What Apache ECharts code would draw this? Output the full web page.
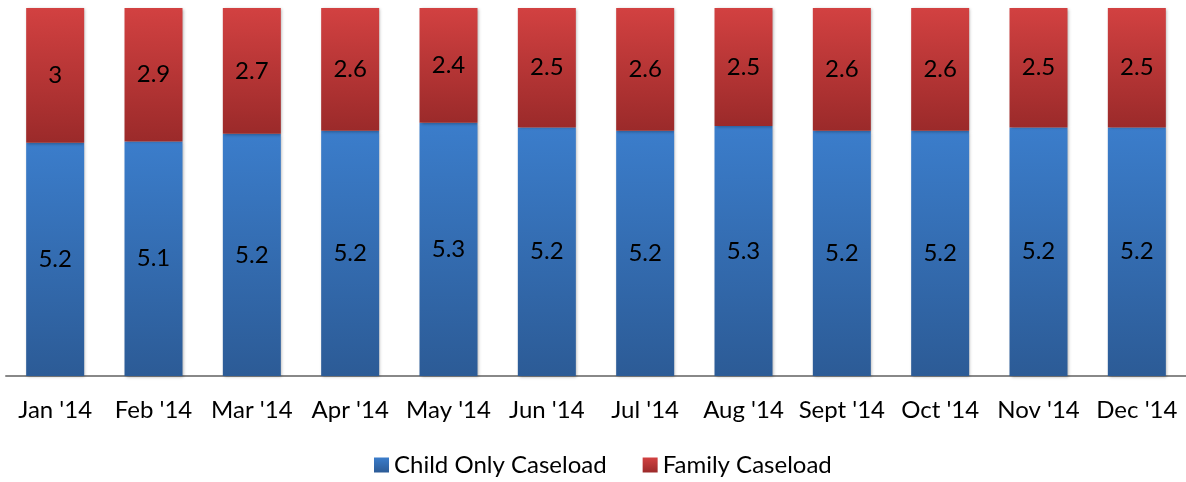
<!DOCTYPE html>
<html>
<head>
<meta charset="utf-8">
<script src="https://cdn.jsdelivr.net/npm/echarts@6/dist/echarts.min.js"></script>
<style>
  html, body { margin: 0; padding: 0; background: #fff; }
  #chart { width: 1186px; height: 482px; }
</style>
</head>
<body>
<div id="chart"></div>
<script>
const months = ["Jan '14", "Feb '14", "Mar '14", "Apr '14", "May '14", "Jun '14",
  "Jul '14", "Aug '14", "Sept '14", "Oct '14", "Nov '14", "Dec '14"];
const childOnly = [5.2, 5.1, 5.2, 5.2, 5.3, 5.2, 5.2, 5.3, 5.2, 5.2, 5.2, 5.2];
const family = [3, 2.9, 2.7, 2.6, 2.4, 2.5, 2.6, 2.5, 2.6, 2.6, 2.5, 2.5];

// 100% stacked: share of each month's total
const totals = childOnly.map((v, i) => v + family[i]);
const childPct = childOnly.map((v, i) => (v / totals[i]) * 100);
const familyPct = family.map((v, i) => (v / totals[i]) * 100);

const font = "Lato, 'Open Sans', sans-serif";

const chart = echarts.init(document.getElementById("chart"), null, { renderer: "canvas" });

function grad(top, bottom) {
  return new echarts.graphic.LinearGradient(0, 0, 0, 1, [
    { offset: 0, color: top },
    { offset: 1, color: bottom },
  ]);
}

const option = {
  animation: false,
  grid: { left: 6, top: 8, width: 1189, height: 368, containLabel: false },
  legend: {
    bottom: 0,
    left: 369,
    itemWidth: 15,
    itemHeight: 15,
    itemGap: 36,
    icon: "rect",
    textStyle: { fontFamily: font, fontSize: 24, color: "#000" },
    data: ["Child Only Caseload", "Family Caseload"],
  },
  xAxis: {
    type: "category",
    data: months,
    axisLine: { lineStyle: { color: "#888", width: 2 } },
    axisTick: { show: false },
    axisLabel: { fontFamily: font, fontSize: 24, color: "#000", margin: 22, interval: 0 },
  },
  yAxis: {
    type: "value",
    min: 0,
    max: 100,
    show: false,
  },
  series: [
    {
      name: "Child Only Caseload",
      type: "bar",
      stack: "total",
      barWidth: 58,
      data: childPct,
      itemStyle: {
        color: grad("#3b7dcb", "#2c5b96"),
        shadowBlur: 3,
        shadowColor: "rgba(0,0,0,0.3)",
        shadowOffsetX: 1,
        shadowOffsetY: 1,
      },
      label: {
        show: true,
        position: "inside",
        fontFamily: font,
        fontSize: 24,
        color: "#000",
        formatter: (p) => childOnly[p.dataIndex],
      },
    },
    {
      name: "Family Caseload",
      type: "bar",
      stack: "total",
      barWidth: 58,
      data: familyPct,
      itemStyle: {
        color: grad("#d24141", "#9b2a2a"),
        shadowBlur: 3,
        shadowColor: "rgba(0,0,0,0.3)",
        shadowOffsetX: 1,
        shadowOffsetY: 1,
      },
      label: {
        show: true,
        position: "inside",
        fontFamily: font,
        fontSize: 24,
        color: "#000",
        formatter: (p) => family[p.dataIndex],
      },
    },
  ],
};

chart.setOption(option);
</script>
</body>
</html>
